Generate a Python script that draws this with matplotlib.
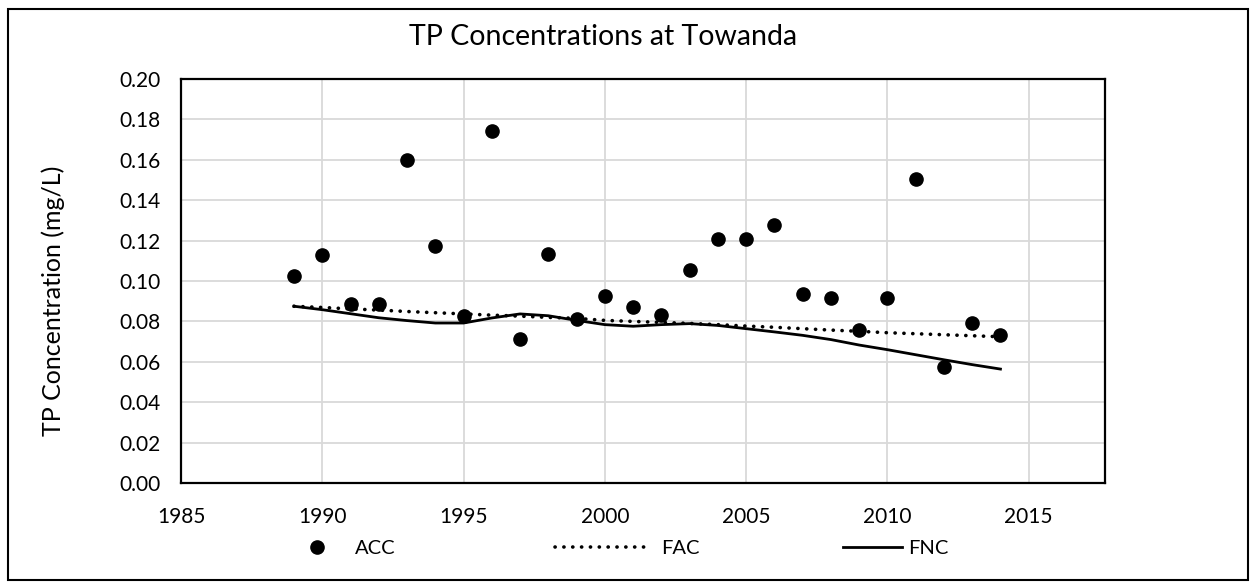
import matplotlib
matplotlib.use("Agg")
import matplotlib.pyplot as plt
from matplotlib.patches import Rectangle

plt.rcParams["font.family"] = ["Lato", "DejaVu Sans"]

# 데이터
years = list(range(1989, 2015))
acc = [0.1026, 0.1127, 0.0884, 0.0884, 0.1597, 0.1173, 0.0825, 0.1743, 0.0711,
       0.1132, 0.0812, 0.0926, 0.0873, 0.0830, 0.1056, 0.1206, 0.1206, 0.1279,
       0.0937, 0.0917, 0.0759, 0.0917, 0.1505, 0.0574, 0.0790, 0.0734]
fac = [0.0875, 0.0869, 0.0862, 0.0856, 0.0849, 0.0843, 0.0837, 0.0831, 0.0826,
       0.0820, 0.0815, 0.0805, 0.0800, 0.0795, 0.0790, 0.0784, 0.0777, 0.0771,
       0.0764, 0.0757, 0.0751, 0.0744, 0.0739, 0.0734, 0.0729, 0.0724]
fnc = [0.0875, 0.0858, 0.0838, 0.0818, 0.0804, 0.0792, 0.0792, 0.0817, 0.0837,
       0.0828, 0.0805, 0.0784, 0.0776, 0.0784, 0.0789, 0.0780, 0.0764, 0.0748,
       0.0731, 0.0710, 0.0683, 0.0660, 0.0635, 0.0610, 0.0586, 0.0564]

W, H = 1253, 582
fig = plt.figure(figsize=(W / 100, H / 100), dpi=100)
ax = fig.add_axes([181 / W, 1 - 483 / H, (1105 - 181) / W, (483 - 79) / H])

# 차트 테두리
fig.patches.append(Rectangle((0.006, 0.003), 0.99, 0.982, transform=fig.transFigure,
                             fill=False, edgecolor="black", linewidth=1.5))

h_acc, = ax.plot(years, acc, "o", color="black", markersize=9.5, label="ACC", zorder=4)
h_fac, = ax.plot(years, fac, color="black", linestyle=(0, (0.05, 2.4)), linewidth=2.6,
                 dash_capstyle="round", label="FAC", zorder=3)
h_fnc, = ax.plot(years, fnc, color="black", linewidth=2.0, label="FNC", zorder=3)

ax.set_xlim(1985, 2017.7)
ax.set_ylim(0, 0.20)
ax.set_xticks(range(1985, 2016, 5))
ax.set_yticks([i * 0.02 for i in range(11)])
ax.yaxis.set_major_formatter(plt.FuncFormatter(lambda v, p: f"{v:.2f}"))
ax.tick_params(length=0, labelsize=15)
ax.tick_params(axis="x", pad=17)
ax.tick_params(axis="y", pad=15)
ax.grid(True, color="#d9d9d9", linewidth=1.3)
ax.set_axisbelow(True)
for sp in ax.spines.values():
    sp.set_linewidth(1.6)
    sp.set_color("black")

fig.text(53 / W, 1 - 301 / H, "TP Concentration (mg/L)", rotation=90,
         ha="center", va="center", fontsize=18)
fig.text(603 / W, 1 - 37 / H, "TP Concentrations at Towanda",
         ha="center", va="center", fontsize=20.5)

# 범례 (항목별 위치 지정)
fs = 14.5
legend_items = [
    (h_acc, "ACC", 297, 2.0, 0.9),
    (h_fac, "FAC", 555, 4.7, 0.55),
    (h_fnc, "FNC", 843, 2.95, 0.3),
]
for handle, label, x0, hl, pad in legend_items:
    fig.legend([handle], [label], loc="center left",
               bbox_to_anchor=(x0 / W, 1 - 548 / H), frameon=False,
               fontsize=fs, handlelength=hl, handletextpad=pad,
               borderpad=0, borderaxespad=0)

fig.savefig("out.png", dpi=100)
